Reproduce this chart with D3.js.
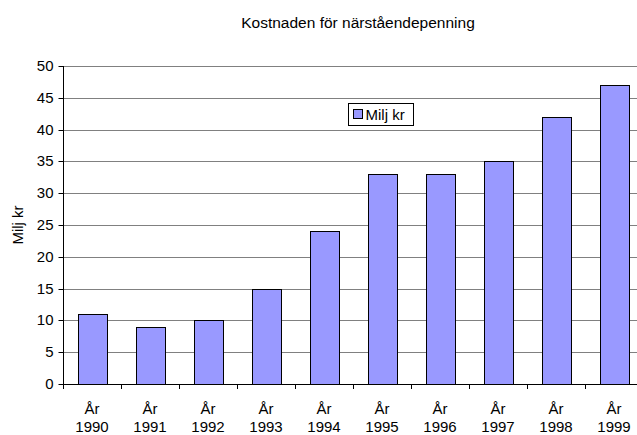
<!DOCTYPE html>
<html>
<head>
<meta charset="utf-8">
<script src="https://cdn.jsdelivr.net/npm/d3@7"></script>
<style>
  body { margin: 0; background: #fff; }
  svg { font-family: "Liberation Sans", Arial, sans-serif; }
</style>
</head>
<body>
<svg id="chart" width="637" height="435"></svg>
<script>
// chart data
var years = ['1990', '1991', '1992', '1993', '1994', '1995', '1996', '1997', '1998', '1999'];
var kostnad = [11, 9, 10, 15, 24, 33, 33, 35, 42, 47];
var yTicks = [0, 5, 10, 15, 20, 25, 30, 35, 40, 45, 50];
var title = 'Kostnaden för närståendepenning';
var seriesName = 'Milj kr';

var svg = d3.select('#chart');
var plotL = 63, plotR = 643, plotT = 66, plotB = 384;
var fs = 15;

var x = d3.scaleBand().domain(years).range([plotL, plotR]).paddingInner(0.5).paddingOuter(0.25);
var xEdge = d3.scaleLinear().domain([0, years.length]).range([plotL, plotR]);
var y = d3.scaleLinear().domain([0, 50]).range([plotB, plotT]);

// grid
svg.append('g').selectAll('line')
    .data(yTicks.filter(d => d > 0))
    .enter().append('line')
    .attr('x1', plotL).attr('x2', plotR)
    .attr('y1', d => Math.round(y(d)) + 0.5).attr('y2', d => Math.round(y(d)) + 0.5)
    .attr('stroke', '#808080').attr('stroke-width', 1);

// bars
svg.append('g').selectAll('rect')
    .data(kostnad)
    .enter().append('rect')
    .attr('x', (d, i) => Math.round(x(years[i])) + 0.5)
    .attr('y', d => Math.round(y(d)) + 0.5)
    .attr('width', Math.round(x.bandwidth()))
    .attr('height', d => Math.round(y(0)) - Math.round(y(d)))
    .attr('fill', '#9999ff').attr('stroke', '#000').attr('stroke-width', 1);

// y axis
var yAx = d3.axisLeft(y).tickValues(yTicks).tickSize(5).tickPadding(5);
var gy = svg.append('g').attr('transform', `translate(${plotL + 0.5},0)`).call(yAx);
gy.select('.domain').attr('d', `M0,${plotT}V${plotB}`);
gy.selectAll('.tick').attr('transform', d => `translate(0,${Math.round(y(d)) + 0.5})`);
gy.selectAll('text').attr('font-size', fs).attr('fill', '#000').attr('font-family', null);
gy.selectAll('line').attr('stroke', '#000');

// x axis
svg.append('line')
    .attr('x1', plotL).attr('x2', plotR)
    .attr('y1', plotB + 0.5).attr('y2', plotB + 0.5)
    .attr('stroke', '#000');
svg.append('g').selectAll('line')
    .data(d3.range(years.length + 1))
    .enter().append('line')
    .attr('x1', d => Math.round(xEdge(d)) + 0.5).attr('x2', d => Math.round(xEdge(d)) + 0.5)
    .attr('y1', plotB).attr('y2', plotB + 5)
    .attr('stroke', '#000');
var xl = svg.append('g').selectAll('text')
    .data(years)
    .enter().append('text')
    .attr('text-anchor', 'middle')
    .attr('font-size', fs);
xl.append('tspan').attr('x', d => x(d) + x.bandwidth() / 2).attr('y', 414).text('År');
xl.append('tspan').attr('x', d => x(d) + x.bandwidth() / 2).attr('y', 432).text(d => d);

// title
svg.append('text')
    .attr('x', 358).attr('y', 28)
    .attr('text-anchor', 'middle').attr('font-size', 15.5)
    .text(title);

// y label
svg.append('text')
    .attr('transform', 'translate(23,225) rotate(-90)')
    .attr('text-anchor', 'middle').attr('font-size', fs)
    .text(seriesName);

// legend
var lg = svg.append('g').attr('transform', 'translate(348.5,103.5)');
lg.append('rect').attr('width', 65).attr('height', 22).attr('fill', '#fff').attr('stroke', '#000');
lg.append('rect').attr('x', 5).attr('y', 6).attr('width', 9).attr('height', 9)
    .attr('fill', '#9999ff').attr('stroke', '#000');
lg.append('text').attr('x', 17).attr('y', 16.5).attr('font-size', fs).text(seriesName);
</script>
</body>
</html>
